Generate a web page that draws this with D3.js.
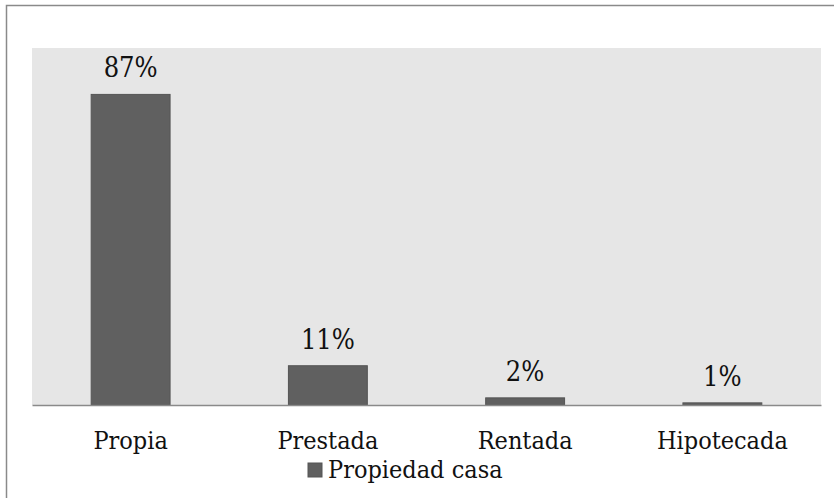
<!DOCTYPE html>
<html>
<head>
<meta charset="utf-8">
<script src="https://cdn.jsdelivr.net/npm/d3@7"></script>
<style>
  body { margin: 0; background: #fff; }
  svg text { font-family: "DejaVu Serif Condensed", "DejaVu Serif", serif; font-stretch: condensed; fill: #111; }
</style>
</head>
<body>
<div id="chart"></div>
<script>
// data
const categories = ["Propia", "Prestada", "Rentada", "Hipotecada"];
const values = [87, 11, 2, 0.6];
const valueLabels = ["87%", "11%", "2%", "1%"];
const seriesName = "Propiedad casa";

const width = 834, height = 498;
const plot = { left: 32, right: 821, top: 48, bottom: 405 };
const fontFamily = "'DejaVu Serif Condensed', 'DejaVu Serif', serif";

const svg = d3.select("#chart").append("svg")
  .attr("width", width)
  .attr("height", height);

// outer frame (left + top edges only visible)
svg.append("path")
  .attr("d", `M6.5,${height} V5.5 H${width}`)
  .attr("fill", "none")
  .attr("stroke", "#8a8a8a")
  .attr("stroke-width", 1.5);

// plot background
svg.append("rect")
  .attr("x", plot.left)
  .attr("y", plot.top)
  .attr("width", plot.right - plot.left)
  .attr("height", plot.bottom - plot.top)
  .attr("fill", "#e6e6e6");

const x = d3.scaleBand()
  .domain(categories)
  .range([plot.left, plot.right])
  .paddingInner(0.6)
  .paddingOuter(0.3);

const y = d3.scaleLinear()
  .domain([0, 100])
  .range([plot.bottom, plot.top]);

const rows = categories.map((c, i) => ({ cat: c, value: values[i], label: valueLabels[i] }));

// bars
svg.selectAll(".bar")
  .data(rows)
  .enter()
  .append("rect")
  .attr("class", "bar")
  .attr("x", d => x(d.cat))
  .attr("y", d => y(d.value))
  .attr("width", x.bandwidth())
  .attr("height", d => y(0) - y(d.value))
  .attr("fill", "#606060")
  .attr("stroke", "#555")
  .attr("stroke-width", 1);

// baseline / x axis
const xAxis = d3.axisBottom(x).tickSize(0).tickPadding(26);
const gx = svg.append("g")
  .attr("transform", `translate(0,${plot.bottom})`)
  .call(xAxis);
gx.select(".domain").attr("stroke", "#8a8a8a").attr("stroke-width", 1.5);
gx.selectAll("text")
  .attr("font-family", fontFamily)
  .attr("font-size", 25)
  .attr("fill", "#111");

// value labels
svg.selectAll(".val")
  .data(rows)
  .enter()
  .append("text")
  .attr("class", "val")
  .attr("x", d => x(d.cat) + x.bandwidth() / 2)
  .attr("y", d => y(d.value) - 17)
  .attr("text-anchor", "middle")
  .attr("font-size", 27)
  .text(d => d.label);

// legend
const legend = svg.append("g").attr("transform", "translate(308,463)");
legend.append("rect")
  .attr("width", 14)
  .attr("height", 14)
  .attr("fill", "#606060")
  .attr("stroke", "#555");
legend.append("text")
  .attr("x", 20)
  .attr("y", 15)
  .attr("font-size", 25)
  .text(seriesName);
</script>
</body>
</html>
